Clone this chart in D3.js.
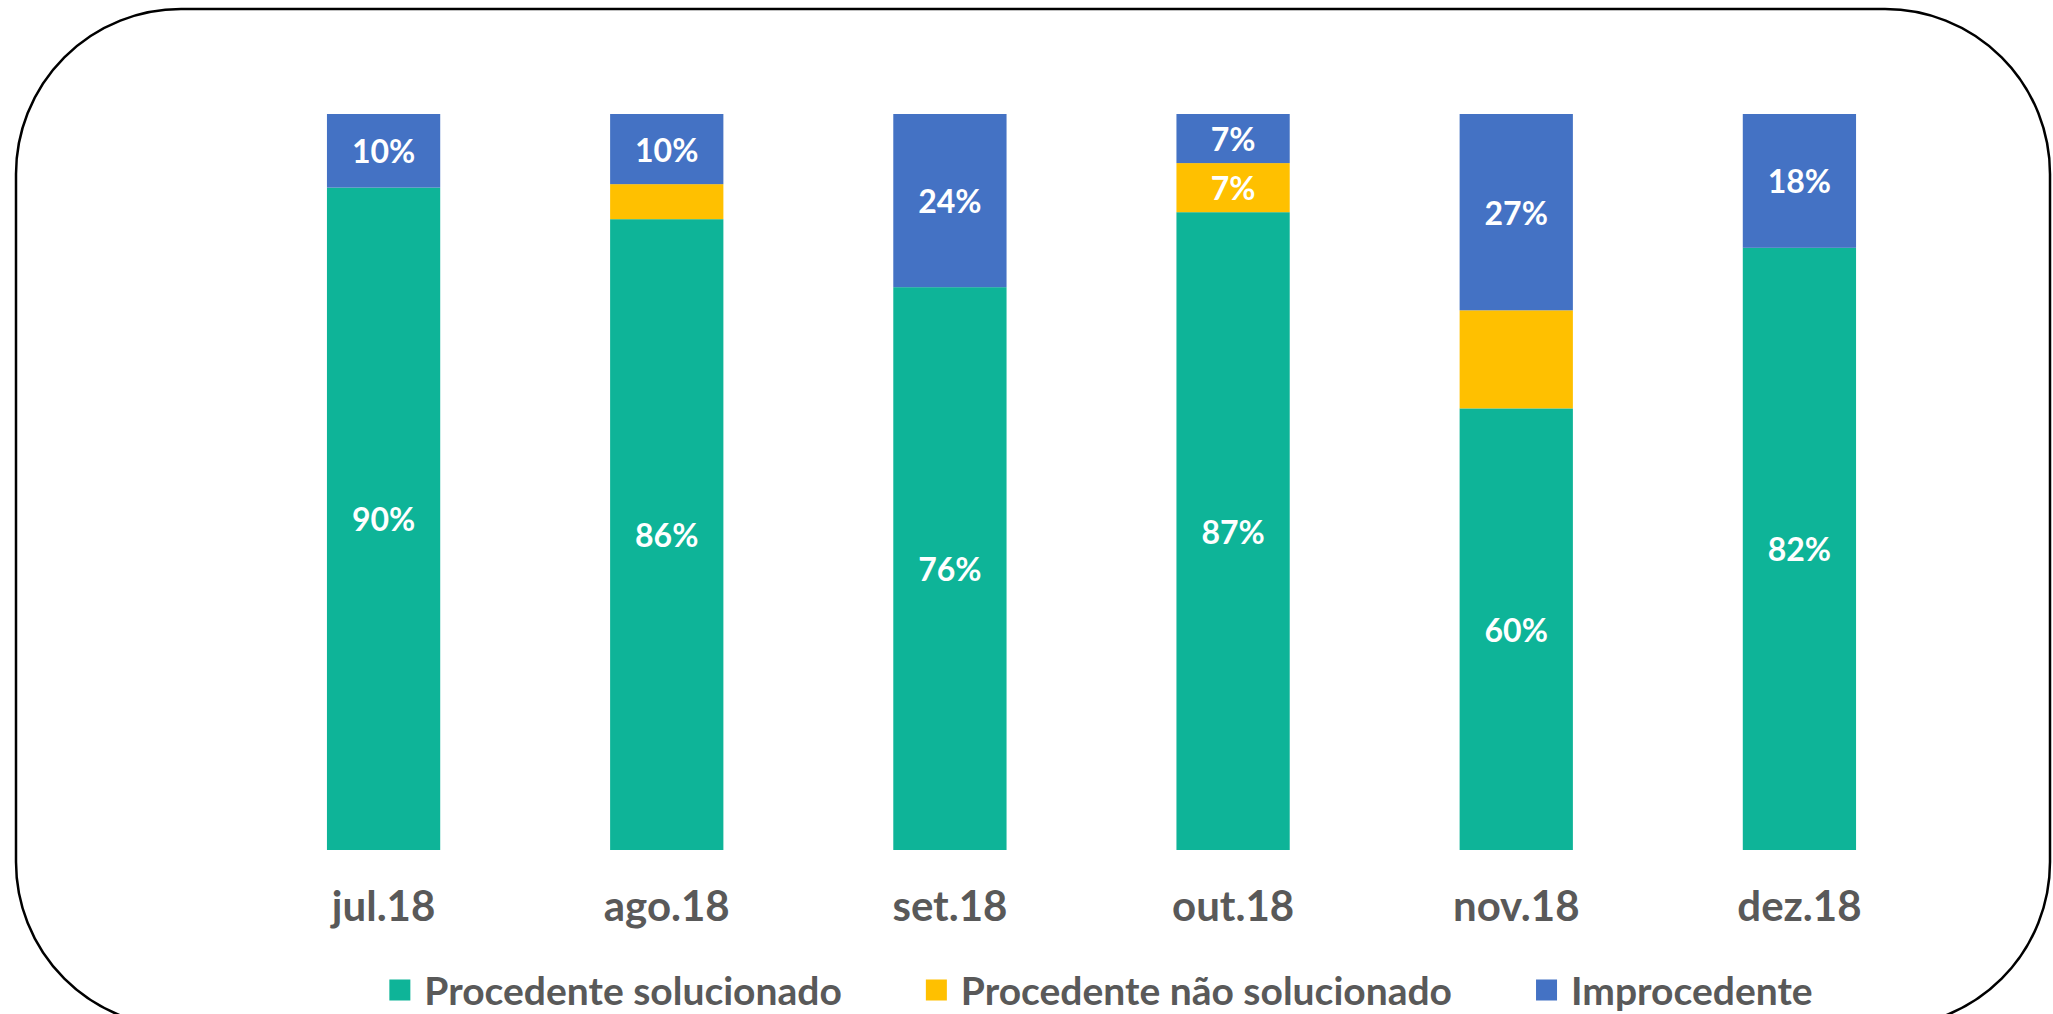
<!DOCTYPE html>
<meta charset="utf-8">
<style>
    body {
        margin: 0;
        background: #fff;
    }

    text {
        font-family: Lato, "Open Sans", sans-serif;
        font-weight: bold;
    }

    .bar-label {
        fill: #fff;
        font-size: 32px;
    }

    .axis-label, .legend text {
        fill: #595959;
    }
</style>
<svg width="2053" height="1014"></svg>
<script src="https://cdn.jsdelivr.net/npm/d3@7"></script>
<script>

    const months = ["jul.18", "ago.18", "set.18", "out.18", "nov.18", "dez.18"];
    const solucionado = [90, 85.71, 76.47, 86.66, 60, 81.82];
    const naoSolucionado = [0, 4.76, 0, 6.67, 13.33, 0];
    const improcedente = [10, 9.53, 23.53, 6.67, 26.67, 18.18];

    // which segments carry a % label (the small yellow ones mostly don't)
    const solucionadoLabel = [true, true, true, true, true, true];
    const naoSolucionadoLabel = [false, false, false, true, false, false];
    const improcedenteLabel = [true, true, true, true, true, true];

    const seriesNames = ["Procedente solucionado", "Procedente não solucionado", "Improcedente"];
    const seriesKeys = ["sol", "nao", "imp"];
    const COLORS = ["#0EB498", "#FFC000", "#4472C4"];

    var svg = d3.select("svg");

    // rounded frame
    svg.append("rect")
        .attr("x", 16)
        .attr("y", 9)
        .attr("width", 2034)
        .attr("height", 1018)
        .attr("rx", 165)
        .attr("ry", 165)
        .attr("fill", "none")
        .attr("stroke", "#000")
        .attr("stroke-width", 2.5);

    var rows = months.map(function (m, i) {
        return {
            month: m,
            sol: solucionado[i],
            nao: naoSolucionado[i],
            imp: improcedente[i],
            labels: {sol: solucionadoLabel[i], nao: naoSolucionadoLabel[i], imp: improcedenteLabel[i]}
        };
    });

    var x = d3.scaleBand()
        .domain(months)
        .range([242, 1941])
        .paddingInner(0.6)
        .paddingOuter(0.3);

    var y = d3.scaleLinear()
        .domain([0, 100])
        .range([850, 114]);

    var color = d3.scaleOrdinal().domain(seriesKeys).range(COLORS);

    var stacked = d3.stack().keys(seriesKeys)(rows);

    var layers = svg.append("g")
        .selectAll("g")
        .data(stacked)
        .enter().append("g")
        .attr("fill", function (d) {
            return color(d.key);
        });

    layers.selectAll("rect")
        .data(function (d) {
            return d;
        })
        .enter().append("rect")
        .attr("x", function (d) {
            return x(d.data.month);
        })
        .attr("width", x.bandwidth())
        .attr("y", function (d) {
            return y(d[1]);
        })
        .attr("height", function (d) {
            return y(d[0]) - y(d[1]);
        });

    var pct = d3.format(".0%");

    layers.each(function (layer) {
        d3.select(this).selectAll("text")
            .data(layer.filter(function (d) {
                return d.data.labels[layer.key] && d[1] > d[0];
            }))
            .enter().append("text")
            .attr("class", "bar-label")
            .attr("x", function (d) {
                return x(d.data.month) + x.bandwidth() / 2;
            })
            .attr("y", function (d) {
                return (y(d[0]) + y(d[1])) / 2;
            })
            .attr("text-anchor", "middle")
            .attr("dominant-baseline", "central")
            .text(function (d) {
                return pct((d[1] - d[0]) / 100);
            });
    });

    // month labels
    var xAxis = d3.axisBottom(x).tickSize(0).tickPadding(0);
    var axisG = svg.append("g")
        .attr("transform", "translate(0,850)")
        .call(xAxis);
    axisG.select(".domain").remove();
    axisG.selectAll("text")
        .attr("class", "axis-label")
        .attr("y", 71)
        .attr("dy", null)
        .attr("font-family", null)
        .attr("font-size", null)
        .attr("fill", null)
        .style("font-size", "42px");

    // legend
    var legend = svg.append("g").attr("class", "legend");
    var items = legend.selectAll("g")
        .data(seriesNames)
        .enter().append("g");

    items.append("rect")
        .attr("width", 21)
        .attr("height", 21)
        .attr("y", -10.5)
        .attr("fill", function (d, i) {
            return COLORS[i];
        });

    items.append("text")
        .attr("x", 35)
        .attr("dominant-baseline", "central")
        .style("font-size", "39px")
        .text(function (d) {
            return d;
        });

    var GAP = 84;
    var offset = 0;
    var positions = [];
    items.each(function () {
        positions.push(offset);
        offset += this.getBBox().width + GAP;
    });
    var legendWidth = offset - GAP;
    var legendStart = 1101 - legendWidth / 2;
    items.attr("transform", function (d, i) {
        return "translate(" + (legendStart + positions[i]) + ",990)";
    });

</script>
